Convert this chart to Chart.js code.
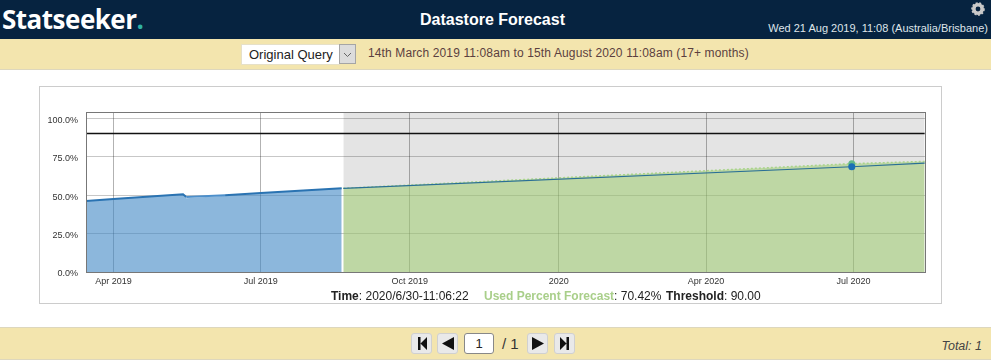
<!DOCTYPE html>
<html>
<head>
<meta charset="utf-8">
<title>Datastore Forecast</title>
<script src="https://cdn.jsdelivr.net/npm/chart.js@4/dist/chart.umd.min.js"></script>
<style>
  html, body { margin: 0; padding: 0; background: #fff; overflow: hidden; }
  body { width: 991px; height: 361px; position: relative; font-family: "Liberation Sans", Arial, sans-serif; color: #222; }
  .abs { position: absolute; white-space: nowrap; }
  #header { left: 0; top: 0; width: 991px; height: 39px; background: #062340; }
  #logo { left: 2px; top: -1px; font-family: "Open Sans", sans-serif; font-weight: 700; font-size: 26px; line-height: 40px; color: #fff; letter-spacing: -0.5px; }
  #logo b { color: #2fb3a5; font-weight: 700; }
  #title { left: 0; width: 985px; top: 10px; text-align: center; font-weight: bold; font-size: 16px; line-height: 20px; color: #fff; }
  #now { right: 3px; top: 22px; font-size: 11px; line-height: 13px; color: #dfe5ea; }
  #subbar { left: 0; top: 39px; width: 991px; height: 30px; background: #f3e5ae; border-bottom: 1px solid #ddd7bd; }
  #select { left: 241px; top: 44px; height: 19px; width: 90px; background: #fff; border: 1px solid #e6e0c8; font-size: 13px; line-height: 20px; padding-left: 7px; color: #222; }
  #selectBtn { left: 339px; top: 44px; width: 15px; height: 18px; background: #dcdcdc; border: 1px solid #a5a5a5; }
  #range { left: 368px; top: 46px; font-size: 12px; line-height: 15px; letter-spacing: 0.125px; color: #5b3f3f; }
  #box { left: 39px; top: 86px; width: 901px; height: 216px; border: 1px solid #ccc; }
  #chartWrap { left: 40px; top: 87px; width: 901px; height: 216px; }
  .cap { top: 289px; font-size: 12px; line-height: 14px; color: #222; }
  #footer { left: 0; top: 327px; width: 991px; height: 33px; background: #f3e5ae; border-top: 1px solid #ddd7bd; box-sizing: border-box; border-bottom: 1px solid #ddd7bd; }
  .btn { top: 333px; width: 21px; height: 21px; background: #e9e9e9; border: 1px solid #d0d0d0; border-radius: 3px; box-sizing: border-box; }
  .btn svg { display: block; margin: 3px auto 0; }
  #page { left: 464px; top: 333px; width: 30px; height: 21px; background: #fff; border: 1px solid #888; border-radius: 3px; box-sizing: border-box; text-align: center; font-size: 13px; line-height: 19px; }
  #pages { left: 502px; top: 336px; font-size: 15px; line-height: 16px; color: #333; }
  #total { right: 9px; top: 339px; font-size: 12.5px; line-height: 14px; font-style: italic; color: #444; }
</style>
</head>
<body>
<div class="abs" id="header"></div>
<div class="abs" id="logo">Statseeker<b>.</b></div>
<div class="abs" id="title">Datastore Forecast</div>
<div class="abs" id="now">Wed 21 Aug 2019, 11:08 (Australia/Brisbane)</div>
<svg class="abs" style="left:971px;top:2px" width="14" height="14" viewBox="0 0 14 14">
  <circle cx="7" cy="7" r="4.2" fill="none" stroke="#c9c9c9" stroke-width="3.6"/>
  <circle cx="7" cy="7" r="6" fill="none" stroke="#c9c9c9" stroke-width="1.6" stroke-dasharray="2 1.6"/>
</svg>

<div class="abs" id="subbar"></div>
<div class="abs" id="select">Original Query</div>
<div class="abs" id="selectBtn">
  <svg width="15" height="18" viewBox="0 0 15 18" style="display:block"><path d="M4 8 L7.5 11.5 L11 8" fill="none" stroke="#666" stroke-width="1"/></svg>
</div>
<div class="abs" id="range">14th March 2019 11:08am to 15th August 2020 11:08am (17+ months)</div>

<div class="abs" id="box"></div>
<div class="abs" id="chartWrap"><canvas id="chart" width="901" height="216"></canvas></div>

<div class="abs cap" style="left:331px"><b>Time</b>: 2020/6/30-11:06:22</div>
<div class="abs cap" style="left:484px"><b style="color:#a9cf8a">Used Percent Forecast</b>: 70.42%</div>
<div class="abs cap" style="left:666px"><b>Threshold</b>: 90.00</div>

<div class="abs" id="footer"></div>
<div class="abs btn" style="left:411px"><svg width="12" height="13" viewBox="0 0 12 13"><path d="M2 0H4.500V13H2Z M11 0V13L4.500 6.500Z" fill="#111"/></svg></div>
<div class="abs btn" style="left:437px"><svg width="14" height="13" viewBox="0 0 14 13"><path d="M13 0V13L1 6.500Z" fill="#111"/></svg></div>
<div class="abs" id="page">1</div>
<div class="abs" id="pages">/ 1</div>
<div class="abs btn" style="left:527px"><svg width="14" height="13" viewBox="0 0 14 13"><path d="M1 0V13L13 6.500Z" fill="#111"/></svg></div>
<div class="abs btn" style="left:554px"><svg width="12" height="13" viewBox="0 0 12 13"><path d="M1 0V13L7.500 6.500Z M7.500 0H10V13H7.500Z" fill="#111"/></svg></div>
<div class="abs" id="total">Total: 1</div>

<script>
const axisStart = '2019-03-15T02:00:00Z';
const axisEnd = '2020-08-14T20:00:00Z';

const xTickDates = ['2019-04-01', '2019-07-01', '2019-10-01', '2020-01-01', '2020-04-01', '2020-07-01'];
const xTickLabels = ['Apr 2019', 'Jul 2019', 'Oct 2019', '2020', 'Apr 2020', 'Jul 2020'];
const yTicks = [0, 25, 50, 75, 100];
const yMax = 104;

// measured usage up to "now"
const historyDates = ['2019-03-15', '2019-04-01', '2019-05-14', '2019-05-16', '2019-06-09', '2019-07-01', '2019-08-20'];
const historyLine = [46.2, 47.5, 50.6, 48.7, 49.9, 51.4, 54.5];
const historyFill = [46.2, 47.5, 50.6, 47.9, 49.5, 51.4, 54.5];

// forecast from "now" to the end of the window
const forecastDates = ['2019-08-21', '2020-06-30', '2020-08-14'];
const forecastTrend = [54.3, 68.4, 70.8];
const forecastUsed = [54.4, 70.42, 71.9];

const hoverDate = '2020-06-30';
const hoverTrend = 68.4;
const hoverUsed = 70.42;
const threshold = 90;
const bandTop = 104;

const ms = s => Date.parse(s);
const toPoints = (dates, values) => dates.map((d, i) => ({ x: ms(d), y: values[i] }));

const plotFrame = {
    id: 'plotFrame',
    afterDatasetsDraw(chart) {
        const a = chart.chartArea, c = chart.ctx;
        c.save();
        c.strokeStyle = '#777';
        c.lineWidth = 1;
        c.strokeRect(a.left + 0.5, a.top + 0.5, a.width - 1, a.height);
        c.restore();
    }
};

const bandEnd = forecastDates[forecastDates.length - 1];

new Chart(document.getElementById('chart'), {
    type: 'line',
    plugins: [plotFrame],
    data: {
        datasets: [
            { label: 'Forecast period', data: toPoints([forecastDates[0], bandEnd], [bandTop, bandTop]), order: 9,
              borderWidth: 0, pointRadius: 0, fill: 'start', backgroundColor: 'rgba(0,0,0,0.105)' },
            { label: 'Used Percent Forecast', data: toPoints(forecastDates, forecastUsed), order: 8,
              borderColor: '#a9d48c', borderWidth: 1.5, borderDash: [2, 2], pointRadius: 0,
              fill: 'origin', backgroundColor: 'rgba(164,205,120,0.6)' },
            { label: 'Used Percent', data: toPoints(historyDates, historyFill), order: 7,
              borderWidth: 0, pointRadius: 0, fill: 'origin', backgroundColor: 'rgba(63,135,197,0.6)' },
            { label: 'Threshold', data: toPoints([historyDates[0], bandEnd], [threshold, threshold]), order: 3,
              borderColor: '#111', borderWidth: 1.6, pointRadius: 0, fill: false },
            { label: 'Used Percent line', data: toPoints(historyDates, historyLine), order: 4,
              borderWidth: 2, pointRadius: 0, fill: false, borderColor: '#2a73b2',
              segment: { borderColor: ctx => ctx.p0DataIndex === 3 ? '#4c8fcb' : undefined } },
            { label: 'Trend', data: toPoints(forecastDates, forecastTrend), order: 5,
              borderColor: '#2a6f96', borderWidth: 1.2, pointRadius: 0, fill: false },
            { label: 'Hover used', data: toPoints([hoverDate], [hoverUsed]), order: 2,
              pointRadius: 3.5, pointBackgroundColor: '#62b98a', pointBorderWidth: 0, showLine: false },
            { label: 'Hover trend', data: toPoints([hoverDate], [hoverTrend]), order: 1,
              pointRadius: 3.5, pointBackgroundColor: '#1a6fb5', pointBorderWidth: 0, showLine: false }
        ]
    },
    options: {
        responsive: false,
        animation: false,
        events: [],
        layout: { padding: { top: 25, right: 15, left: 0, bottom: 0 } },
        plugins: { legend: { display: false }, tooltip: { enabled: false } },
        scales: {
            x: {
                type: 'linear',
                min: ms(axisStart),
                max: ms(axisEnd),
                afterFit: s => { s.height = 31; },
                afterBuildTicks: s => { s.ticks = xTickDates.map(d => ({ value: ms(d) })); },
                border: { display: false },
                grid: { color: 'rgba(0,0,0,0.3)', drawTicks: false },
                ticks: {
                    autoSkip: false, maxRotation: 0, padding: 4,
                    color: '#333', font: { family: '"Liberation Sans", Arial, sans-serif', size: 9 },
                    callback: v => xTickLabels[xTickDates.findIndex(d => ms(d) === v)]
                }
            },
            y: {
                min: 0,
                max: yMax,
                afterFit: s => { s.width = 46; },
                afterBuildTicks: s => { s.ticks = yTicks.map(v => ({ value: v })); },
                border: { display: false },
                grid: { color: 'rgba(0,0,0,0.22)', drawTicks: false },
                ticks: {
                    padding: 8, labelOffset: 2,
                    color: '#333', font: { family: '"Liberation Sans", Arial, sans-serif', size: 9 },
                    callback: v => v.toFixed(1) + '%'
                }
            }
        }
    }
});
</script>
</body>
</html>
